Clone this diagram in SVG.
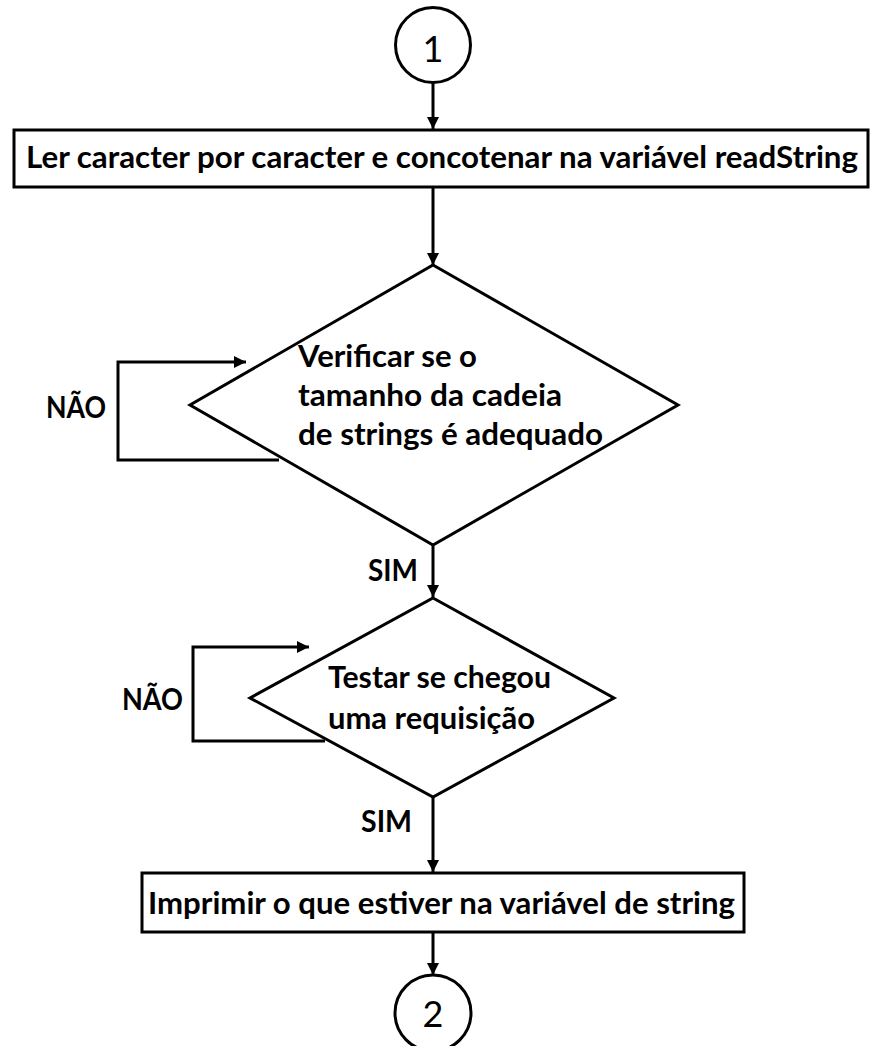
<svg xmlns="http://www.w3.org/2000/svg" width="870" height="1046" viewBox="0 0 870 1046">
  <style>
    .shape { fill: #ffffff; stroke: #000000; stroke-width: 3; }
    .wire { fill: none; stroke: #000000; stroke-width: 3; }
    .label { font-family: "Lato", "Liberation Sans", sans-serif; font-weight: bold; font-size: 30px; fill: #000000; }
    .num { font-family: "Lato", "Liberation Sans", sans-serif; font-size: 36px; fill: #000000; text-anchor: middle; }
  </style>
  <defs>
    <marker id="arrow" viewBox="0 0 10 10" refX="10" refY="5" markerWidth="4" markerHeight="4" markerUnits="strokeWidth" orient="auto">
      <path d="M0,0 L10,5 L0,10 z" fill="#000000"/>
    </marker>
  </defs>
  <rect width="870" height="1046" fill="#ffffff"/>

  <!-- connectors -->
  <g id="connectors">
    <path class="wire" d="M433,83 L433,129" marker-end="url(#arrow)"/>
    <path class="wire" d="M433,187 L433,265" marker-end="url(#arrow)"/>
    <path class="wire" d="M279,460 L118,460 L118,362 L246,362" marker-end="url(#arrow)"/>
    <path class="wire" d="M433,545 L433,597" marker-end="url(#arrow)"/>
    <path class="wire" d="M325,741 L193,741 L193,647 L309,647" marker-end="url(#arrow)"/>
    <path class="wire" d="M433,797 L433,872" marker-end="url(#arrow)"/>
    <path class="wire" d="M433,932 L433,975" marker-end="url(#arrow)"/>
  </g>

  <!-- start connector circle -->
  <g id="start">
    <circle class="shape" cx="433" cy="45" r="37.5"/>
    <text class="num" x="433" y="62">1</text>
  </g>

  <!-- read loop -->
  <g id="read">
    <rect class="shape" x="14" y="130" width="854" height="57"/>
    <text class="label" x="26" y="168" textLength="832" lengthAdjust="spacingAndGlyphs">Ler caracter por caracter e concotenar na variável readString</text>
  </g>

  <!-- size check -->
  <g id="check-size">
    <polygon class="shape" points="433,265 678,405 433,545 190,405"/>
    <text class="label" x="298" y="367" textLength="179" lengthAdjust="spacingAndGlyphs">Verificar se o</text>
    <text class="label" x="298" y="406" textLength="264" lengthAdjust="spacingAndGlyphs">tamanho da cadeia</text>
    <text class="label" x="298" y="445" textLength="305" lengthAdjust="spacingAndGlyphs">de strings é adequado</text>
  </g>

  <!-- request check -->
  <g id="check-request">
    <polygon class="shape" points="433,598 614,698 433,797 250,698"/>
    <text class="label" x="328" y="688" textLength="223" lengthAdjust="spacingAndGlyphs">Testar se chegou</text>
    <text class="label" x="328" y="729" textLength="207" lengthAdjust="spacingAndGlyphs">uma requisição</text>
  </g>

  <!-- branch labels -->
  <g id="branch-labels">
    <text class="label" x="46" y="418" textLength="60" lengthAdjust="spacingAndGlyphs">NÃO</text>
    <text class="label" x="368" y="581" textLength="50" lengthAdjust="spacingAndGlyphs">SIM</text>
    <text class="label" x="122" y="710" textLength="61" lengthAdjust="spacingAndGlyphs">NÃO</text>
    <text class="label" x="361" y="832" textLength="51" lengthAdjust="spacingAndGlyphs">SIM</text>
  </g>

  <!-- print -->
  <g id="print">
    <rect class="shape" x="142" y="873" width="602" height="59"/>
    <text class="label" x="148" y="914" textLength="587" lengthAdjust="spacingAndGlyphs">Imprimir o que estiver na variável de string</text>
  </g>

  <!-- end connector circle -->
  <g id="end">
    <circle class="shape" cx="433" cy="1013" r="38"/>
    <text class="num" x="433" y="1027">2</text>
  </g>
</svg>
